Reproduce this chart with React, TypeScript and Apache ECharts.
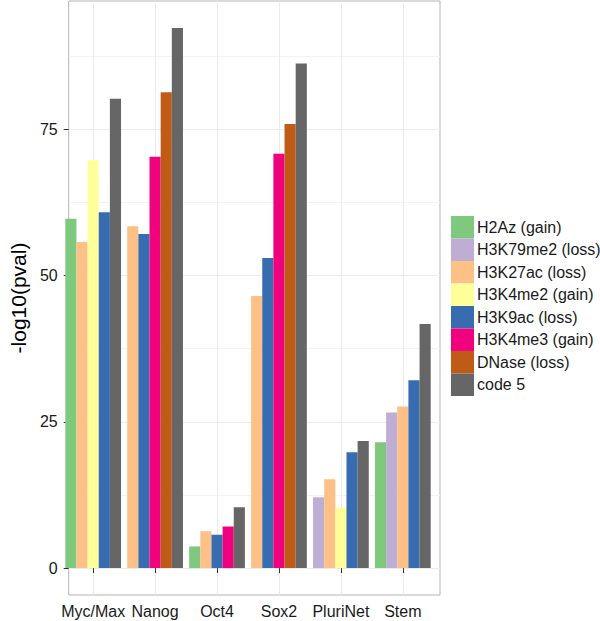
import React, { useEffect, useRef } from "react";
import * as echarts from "echarts";

const categories = ["Myc/Max", "Nanog", "Oct4", "Sox2", "PluriNet", "Stem"];

const seriesNames = [
  "H2Az (gain)",
  "H3K79me2 (loss)",
  "H3K27ac (loss)",
  "H3K4me2 (gain)",
  "H3K9ac (loss)",
  "H3K4me3 (gain)",
  "DNase (loss)",
  "code 5",
];

const seriesColors = ["#7FC97F", "#BEAED4", "#FDC086", "#FFFF99", "#386CB0", "#F0027F", "#BF5B17", "#666666"];

const h2az = [59.7, null, 3.7, null, null, 21.5];
const h3k79me2 = [null, null, null, null, 12.1, 26.6];
const h3k27ac = [55.7, 58.4, 6.3, 46.5, 15.2, 27.6];
const h3k4me2 = [69.7, null, null, null, 10.4, null];
const h3k9ac = [60.8, 57.1, 5.7, 53.0, 19.8, 32.1];
const h3k4me3 = [null, 70.3, 7.1, 70.8, null, null];
const dnase = [null, 81.3, null, 75.9, null, null];
const code5 = [80.2, 92.3, 10.4, 86.2, 21.7, 41.7];

const yMajorTicks = [0, 25, 50, 75];
const yMinorTicks = [12.5, 37.5, 62.5, 87.5];
const yMin = -4.6;
const yMax = 96.9;

const allSeries: (number | null)[][] = [h2az, h3k79me2, h3k27ac, h3k4me2, h3k9ac, h3k4me3, dnase, code5];

const FONT = "Liberation Sans, Arial, Helvetica, sans-serif";

function buildSlots() {
  // dodge only the present bars within each category (as ggplot does)
  const slots: any[][] = [];
  categories.forEach((_, ci) => {
    let k = 0;
    allSeries.forEach((s, si) => {
      const v = s[ci];
      if (v === null || v === undefined) return;
      if (!slots[k]) slots[k] = categories.map(() => null);
      slots[k][ci] = { value: v, name: seriesNames[si], itemStyle: { color: seriesColors[si] } };
      k++;
    });
  });
  return slots;
}

export default function App() {
  const ref = useRef<HTMLDivElement>(null);
  useEffect(() => {
    if (!ref.current) return;
    const chart = echarts.init(ref.current, undefined, { renderer: "svg" });
    const slots = buildSlots();

    const panelLeft = 56;
    const panelRight = 440;
    const panelTop = 1;
    const panelBottom = 595;
    const unit = (panelRight - panelLeft) / 6.2;
    const barLeft = panelLeft + 0.1 * unit;
    const barWidth = 6 * unit;

    const legendSeries = seriesNames.map((n, i) => ({
      name: n,
      type: "bar",
      xAxisIndex: 0,
      yAxisIndex: 0,
      data: [],
      itemStyle: { color: seriesColors[i] },
    }));

    const slotSeries = slots.map((d, k) => ({
      name: "slot" + k,
      type: "bar",
      xAxisIndex: 1,
      yAxisIndex: 2,
      barGap: "0%",
      barCategoryGap: "10%",
      data: d,
    }));

    chart.setOption({
      animation: false,
      backgroundColor: "#ffffff",
      textStyle: { fontFamily: FONT },
      grid: [
        {
          left: panelLeft,
          top: panelTop,
          width: panelRight - panelLeft,
          height: panelBottom - panelTop,
          show: true,
          borderColor: "#B3B3B3",
          borderWidth: 1,
          backgroundColor: "#ffffff",
        },
        {
          left: barLeft,
          top: panelTop,
          width: barWidth,
          height: panelBottom - panelTop,
        },
      ],
      xAxis: [
        { gridIndex: 0, type: "category", data: categories, show: false },
        {
          gridIndex: 1,
          type: "category",
          data: categories,
          axisLine: { show: false },
          axisTick: { show: true, alignWithLabel: true, length: 5, lineStyle: { color: "#333333" } },
          axisLabel: { fontSize: 16, color: "#1A1A1A", margin: 8, interval: 0, fontFamily: FONT },
          splitLine: { show: true, alignWithLabel: true, interval: 0, lineStyle: { color: "#EBEBEB", width: 1 } },
        },
      ],
      yAxis: [
        {
          gridIndex: 0,
          type: "value",
          min: yMin,
          max: yMax,
          name: "-log10(pval)",
          nameLocation: "middle",
          nameRotate: 90,
          nameGap: 35,
          nameTextStyle: { fontSize: 21, color: "#000000", fontFamily: FONT },
          axisLine: { show: false },
          axisTick: { show: true, length: 5, customValues: yMajorTicks, lineStyle: { color: "#333333" } },
          axisLabel: { fontSize: 16, color: "#1A1A1A", margin: 11, customValues: yMajorTicks, fontFamily: FONT },
          splitLine: { show: true, customValues: yMajorTicks, lineStyle: { color: "#EBEBEB", width: 1 } },
        },
        {
          gridIndex: 0,
          type: "value",
          min: yMin,
          max: yMax,
          position: "right",
          axisLine: { show: false },
          axisTick: { show: false, customValues: yMinorTicks },
          axisLabel: { show: false, customValues: yMinorTicks },
          splitLine: { show: true, customValues: yMinorTicks, lineStyle: { color: "#F3F3F3", width: 1 } },
        },
        { gridIndex: 1, type: "value", min: yMin, max: yMax, show: false, splitLine: { show: false } },
      ],
      legend: {
        orient: "vertical",
        left: 446,
        top: 211,
        itemWidth: 23,
        itemHeight: 22.5,
        itemGap: 0,
        icon: "rect",
        data: seriesNames,
        textStyle: { fontSize: 16, color: "#1A1A1A", fontFamily: FONT, padding: [0, 0, 0, -2] },
        selectedMode: false,
      },
      series: [...legendSeries, ...slotSeries],
    });
    return () => chart.dispose();
  }, []);
  return (
    <div
      ref={ref}
      style={{ position: "absolute", left: 0, top: 0, width: 600, height: 621 }}
    />
  );
}
